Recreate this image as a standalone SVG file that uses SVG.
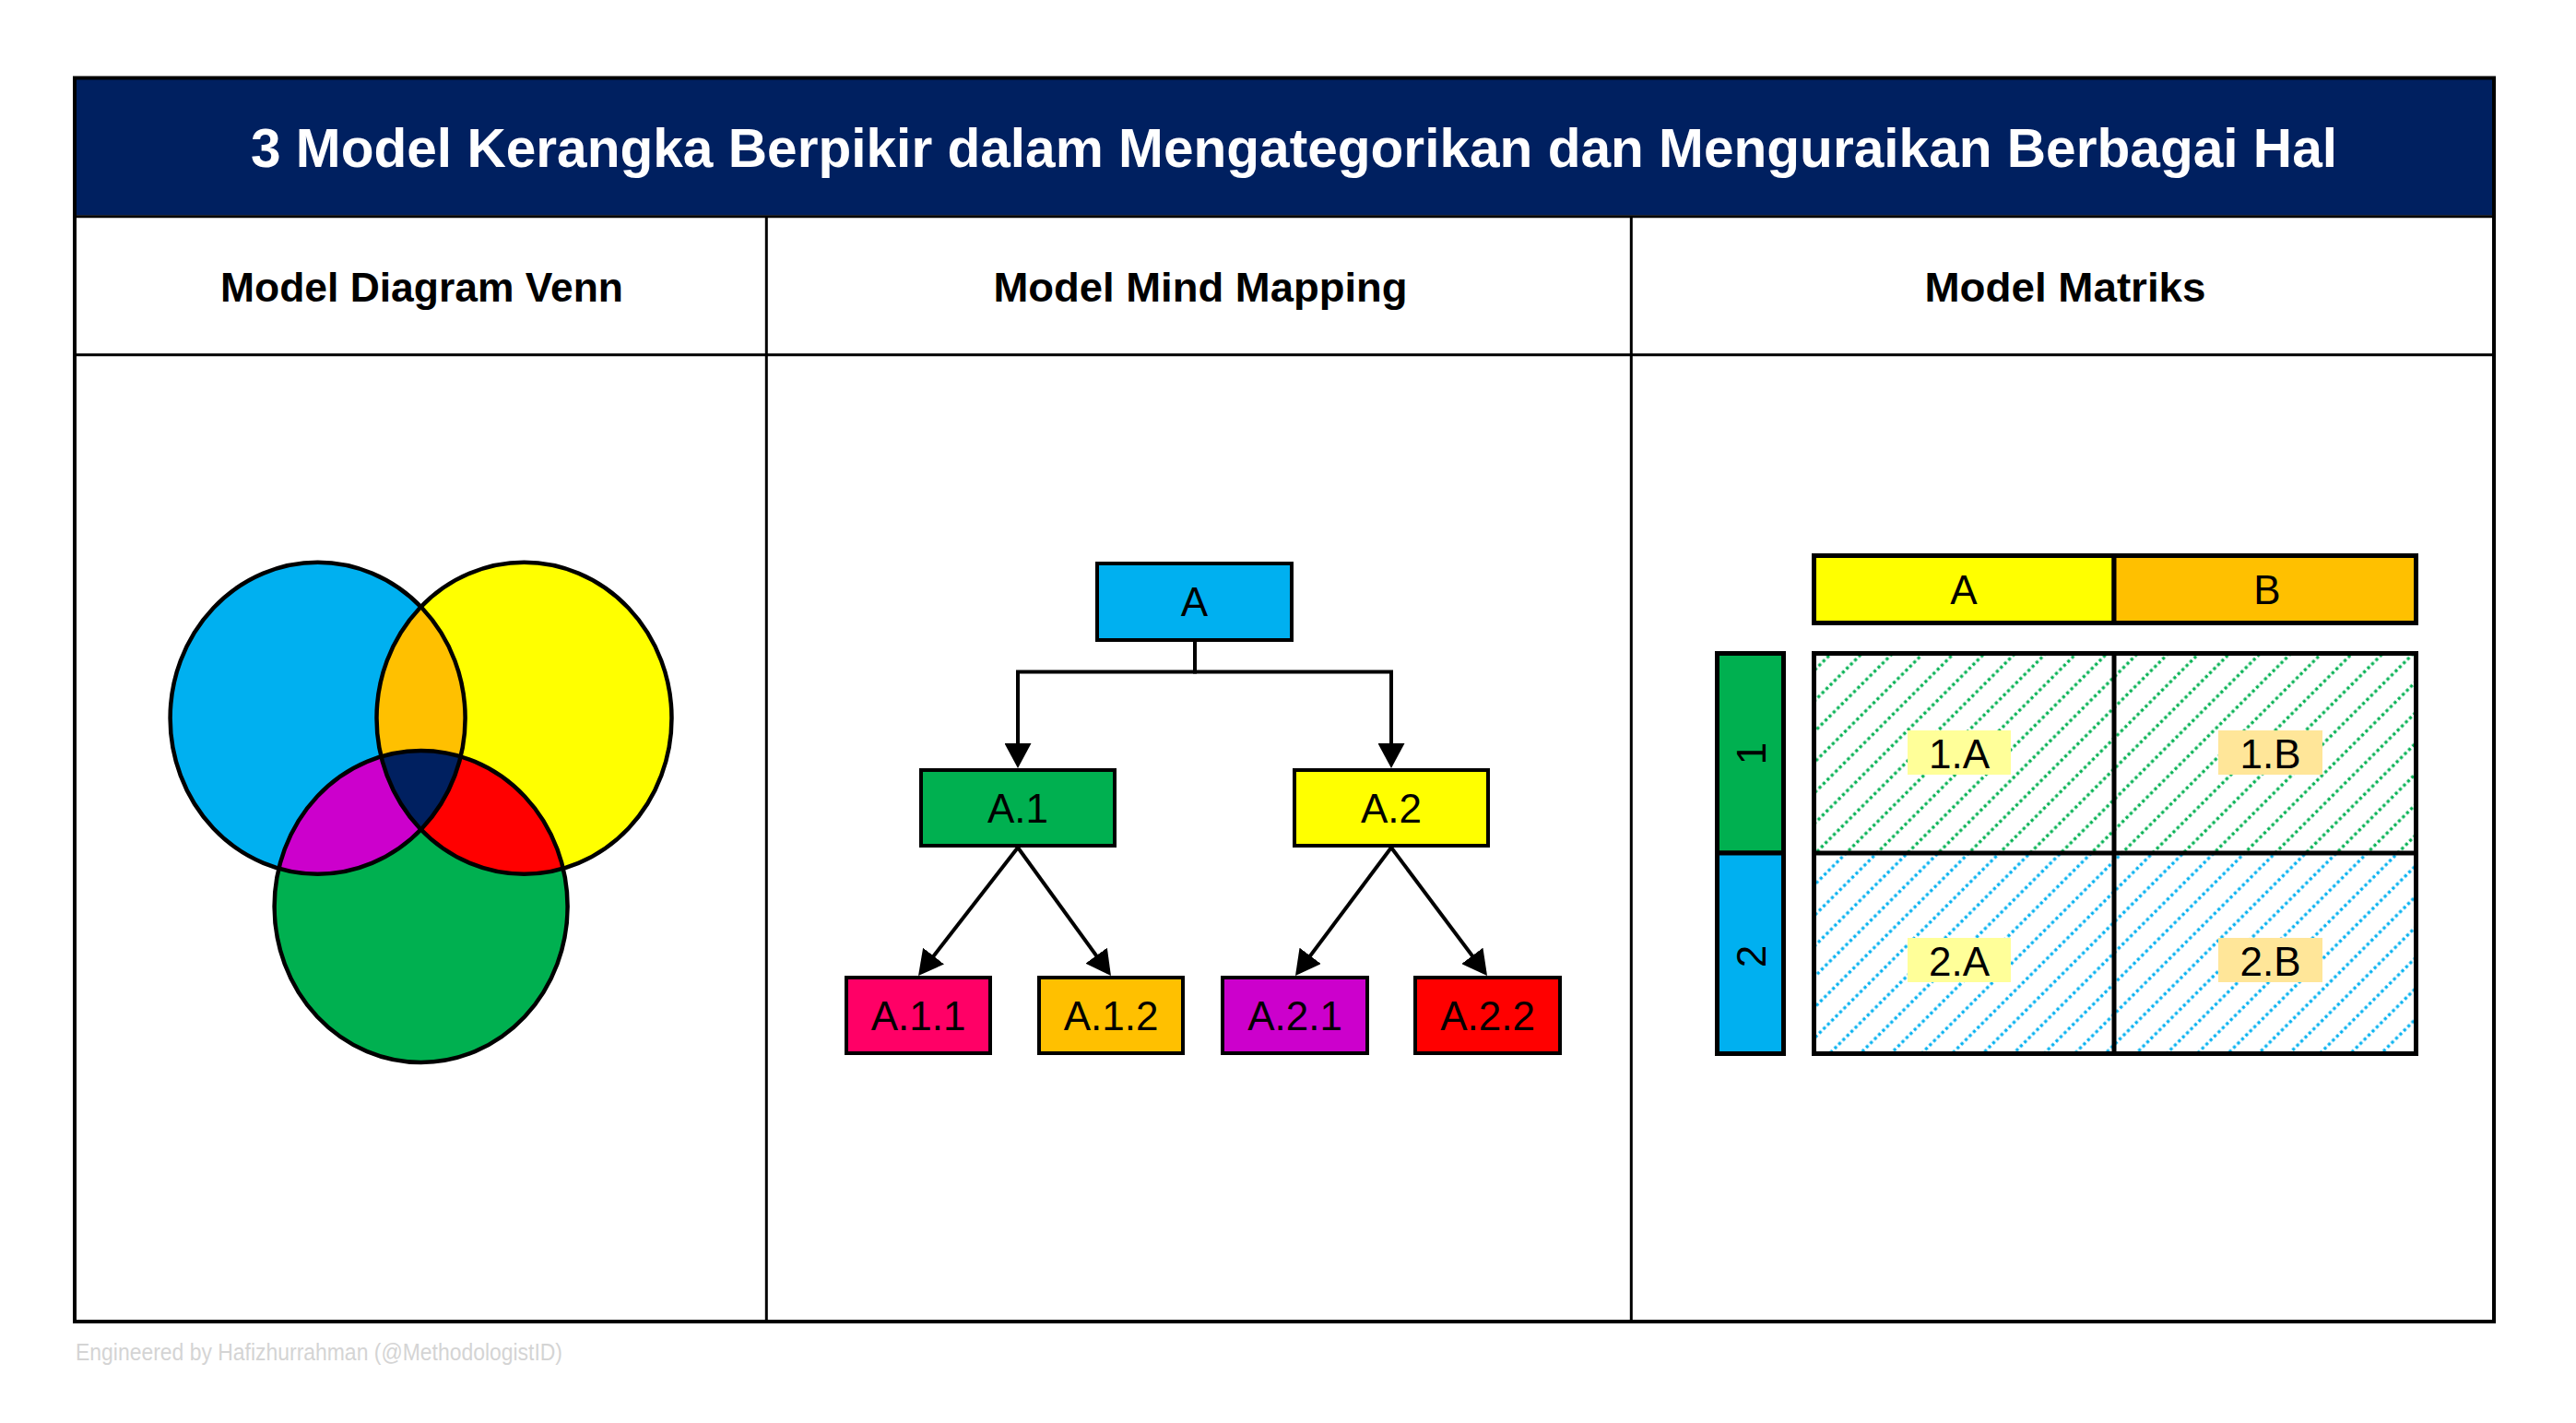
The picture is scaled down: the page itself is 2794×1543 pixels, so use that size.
<svg xmlns="http://www.w3.org/2000/svg" width="2794" height="1543" viewBox="0 0 2794 1543">
<style>
.t{font-family:"Liberation Sans",Arial,sans-serif;fill:#000;}
.lbl{font-family:"Liberation Sans",Arial,sans-serif;font-size:44px;fill:#000;text-anchor:middle;}
.hdr{font-family:"Liberation Sans",Arial,sans-serif;font-size:44px;font-weight:bold;fill:#000;text-anchor:middle;}
.box{stroke:#000;stroke-width:4;}
.mx{stroke:#000;stroke-width:5;}
.conn{fill:none;stroke:#000;stroke-width:4;}
.vo{fill:none;stroke:#000;stroke-width:4.5;}
.grid{stroke:#000;stroke-width:3;fill:none;}
</style>
<defs>
<marker id="arr" markerUnits="userSpaceOnUse" markerWidth="29" markerHeight="29" refX="23" refY="14.5" orient="auto">
<path d="M0,0 L27,14.5 L0,29 Z" fill="#000"/>
</marker>
<pattern id="hatchG" patternUnits="userSpaceOnUse" width="23.5" height="25" patternTransform="rotate(45)">
<line x1="2" y1="0" x2="2" y2="25" stroke="#00B050" stroke-width="3.2" stroke-dasharray="3.2 3.05"/>
</pattern>
<pattern id="hatchB" patternUnits="userSpaceOnUse" width="23.5" height="25" patternTransform="rotate(45)">
<line x1="2" y1="0" x2="2" y2="25" stroke="#00B0F0" stroke-width="3.2" stroke-dasharray="3.2 3.05"/>
</pattern>
<clipPath id="cB"><ellipse cx="344.6" cy="778.7" rx="160" ry="169"/></clipPath>
<clipPath id="cY"><ellipse cx="568.5" cy="778.7" rx="160" ry="169"/></clipPath>
</defs>

<rect x="0" y="0" width="2794" height="1543" fill="#fff"/>

<g id="frame">
<rect x="81" y="84.5" width="2624" height="149" fill="#002060"/>
<text class="t" x="1403.5" y="181" font-size="60" font-weight="bold" fill="#fff" style="fill:#fff" text-anchor="middle" textLength="2263" lengthAdjust="spacingAndGlyphs">3 Model Kerangka Berpikir dalam Mengategorikan dan Menguraikan Berbagai Hal</text>
<line class="grid" x1="81" y1="234.7" x2="2705" y2="234.7"/>
<line class="grid" x1="81" y1="384.7" x2="2705" y2="384.7"/>
<line class="grid" x1="831.3" y1="234.7" x2="831.3" y2="1433"/>
<line class="grid" x1="1769.3" y1="234.7" x2="1769.3" y2="1433"/>
<rect x="81" y="84.5" width="2624" height="1348.5" fill="none" stroke="#000" stroke-width="4"/>
<text class="hdr" x="457.5" y="327" textLength="437" lengthAdjust="spacingAndGlyphs">Model Diagram Venn</text>
<text class="hdr" x="1302" y="327" textLength="449" lengthAdjust="spacingAndGlyphs">Model Mind Mapping</text>
<text class="hdr" x="2240" y="327" textLength="305" lengthAdjust="spacingAndGlyphs">Model Matriks</text>
</g>

<g id="venn">
<ellipse cx="344.6" cy="778.7" rx="160" ry="169" fill="#00B0F0"/>
<ellipse cx="568.5" cy="778.7" rx="160" ry="169" fill="#FFFF00"/>
<ellipse cx="456.6" cy="983" rx="159" ry="169" fill="#00B050"/>
<ellipse cx="568.5" cy="778.7" rx="160" ry="169" fill="#FFC000" clip-path="url(#cB)"/>
<ellipse cx="456.6" cy="983" rx="159" ry="169" fill="#CC00CC" clip-path="url(#cB)"/>
<ellipse cx="456.6" cy="983" rx="159" ry="169" fill="#FF0000" clip-path="url(#cY)"/>
<g clip-path="url(#cY)"><ellipse cx="456.6" cy="983" rx="159" ry="169" fill="#002060" clip-path="url(#cB)"/></g>
<ellipse class="vo" cx="344.6" cy="778.7" rx="160" ry="169"/>
<ellipse class="vo" cx="568.5" cy="778.7" rx="160" ry="169"/>
<ellipse class="vo" cx="456.6" cy="983" rx="159" ry="169"/>
</g>

<g id="connectors">
<path class="conn" d="M1296,696 V728.5 H1104 V829" marker-end="url(#arr)"/>
<path class="conn" d="M1296,696 V728.5 H1509 V829" marker-end="url(#arr)"/>
<line class="conn" x1="1104" y1="919" x2="998.5" y2="1054.8" marker-end="url(#arr)"/>
<line class="conn" x1="1104" y1="919" x2="1202.6" y2="1054.8" marker-end="url(#arr)"/>
<line class="conn" x1="1509" y1="919" x2="1407.4" y2="1054.8" marker-end="url(#arr)"/>
<line class="conn" x1="1509" y1="919" x2="1610.6" y2="1054.8" marker-end="url(#arr)"/>
</g>

<g id="node-A"><rect class="box" x="1190" y="611" width="211" height="83" fill="#00B0F0"/><text class="lbl" x="1295.5" y="668">A</text></g>
<g id="node-A1"><rect class="box" x="999" y="835" width="210" height="82" fill="#00B050"/><text class="lbl" x="1104" y="892">A.1</text></g>
<g id="node-A2"><rect class="box" x="1404" y="835" width="210" height="82" fill="#FFFF00"/><text class="lbl" x="1509" y="892">A.2</text></g>
<g id="node-A11"><rect class="box" x="918" y="1060" width="156" height="82" fill="#FF0066"/><text class="lbl" x="996" y="1117">A.1.1</text></g>
<g id="node-A12"><rect class="box" x="1127" y="1060" width="156" height="82" fill="#FFC000"/><text class="lbl" x="1205" y="1117">A.1.2</text></g>
<g id="node-A21"><rect class="box" x="1326" y="1060" width="157" height="82" fill="#CC00CC"/><text class="lbl" x="1404.5" y="1117">A.2.1</text></g>
<g id="node-A22"><rect class="box" x="1535" y="1060" width="157" height="82" fill="#FF0000"/><text class="lbl" x="1613.5" y="1117">A.2.2</text></g>

<g id="matrix">
<g id="col-A"><rect class="mx" x="1967.5" y="602.5" width="325.5" height="73" fill="#FFFF00"/><text class="lbl" x="2130" y="655">A</text></g>
<g id="col-B"><rect class="mx" x="2293" y="602.5" width="327.5" height="73" fill="#FFC000"/><text class="lbl" x="2459" y="655">B</text></g>
<g id="row-1"><rect class="mx" x="1862.5" y="708.5" width="72" height="216.5" fill="#00B050"/><text class="lbl" transform="translate(1899,817) rotate(-90)" x="0" y="16">1</text></g>
<g id="row-2"><rect class="mx" x="1862.5" y="925" width="72" height="217.5" fill="#00B0F0"/><text class="lbl" transform="translate(1899,1037) rotate(-90)" x="0" y="16">2</text></g>
<g id="cell-1A"><rect x="1967.5" y="708.5" width="325.5" height="216.5" fill="url(#hatchG)"/><rect x="2069" y="792" width="112" height="48" fill="#FFFF99"/><text class="lbl" x="2125" y="833">1.A</text></g>
<g id="cell-1B"><rect x="2293" y="708.5" width="327.5" height="216.5" fill="url(#hatchG)"/><rect x="2406" y="792" width="113" height="48" fill="#FFE699"/><text class="lbl" x="2462.5" y="833">1.B</text></g>
<g id="cell-2A"><rect x="1967.5" y="925" width="325.5" height="217.5" fill="url(#hatchB)"/><rect x="2069" y="1017" width="112" height="48" fill="#FFFF99"/><text class="lbl" x="2125" y="1058">2.A</text></g>
<g id="cell-2B"><rect x="2293" y="925" width="327.5" height="217.5" fill="url(#hatchB)"/><rect x="2406" y="1017" width="113" height="48" fill="#FFE699"/><text class="lbl" x="2462.5" y="1058">2.B</text></g>
<rect class="mx" x="1967.5" y="708.5" width="653" height="434" fill="none"/>
<line class="mx" x1="2293" y1="708.5" x2="2293" y2="1142.5"/>
<line class="mx" x1="1967.5" y1="925" x2="2620.5" y2="925"/>
</g>

<text class="t" x="82" y="1475" font-size="25" style="fill:#D4D4D4" textLength="528" lengthAdjust="spacingAndGlyphs">Engineered by Hafizhurrahman (@MethodologistID)</text>
</svg>
